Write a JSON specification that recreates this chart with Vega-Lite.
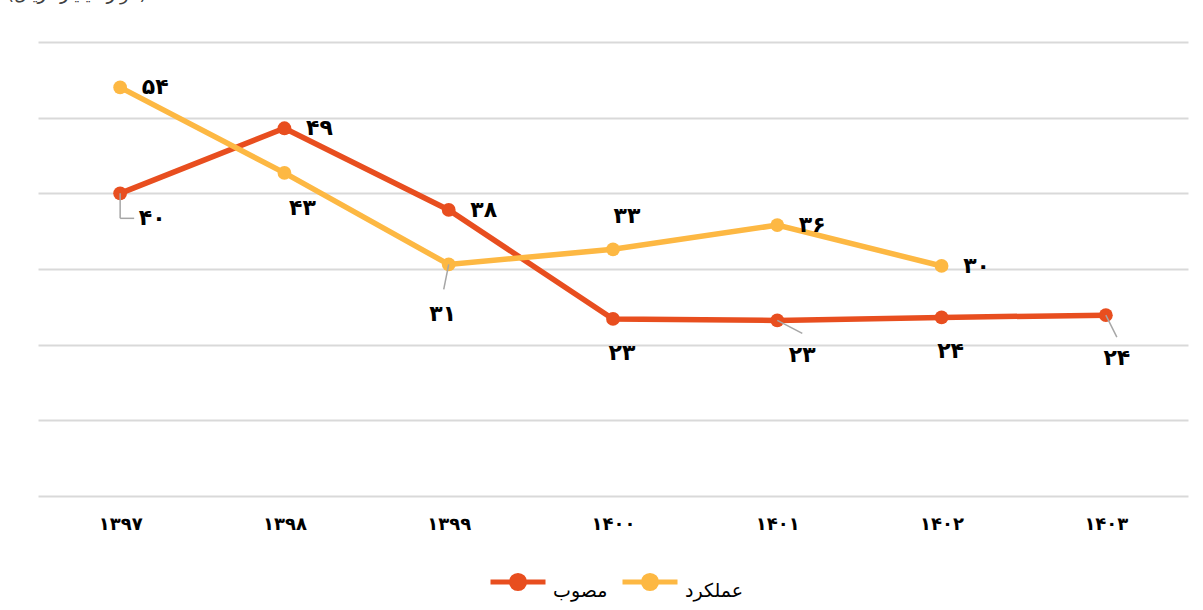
{
  "$schema": "https://vega.github.io/schema/vega-lite/v6.json",
  "width": 1150,
  "height": 454,
  "autosize": {"type": "none"},
  "padding": {"left": 38, "top": 42, "right": 15, "bottom": 114},
  "background": "white",
  "title": {
    "text": "(هزار میلیارد ریال)",
    "anchor": "start",
    "frame": "group",
    "orient": "top",
    "baseline": "alphabetic",
    "offset": 24,
    "dx": -31,
    "fontSize": 18,
    "fontWeight": "normal",
    "font": "DejaVu Sans",
    "color": "#404040"
  },
  "config": {
    "view": {"stroke": null},
    "font": "DejaVu Sans"
  },
  "data": {
    "values": [
      {"year": "۱۳۹۷", "series": "مصوب", "value": 40.0, "label": "۴۰"},
      {"year": "۱۳۹۸", "series": "مصوب", "value": 48.6, "label": "۴۹"},
      {"year": "۱۳۹۹", "series": "مصوب", "value": 37.8, "label": "۳۸"},
      {"year": "۱۴۰۰", "series": "مصوب", "value": 23.4, "label": "۲۳"},
      {"year": "۱۴۰۱", "series": "مصوب", "value": 23.2, "label": "۲۳"},
      {"year": "۱۴۰۲", "series": "مصوب", "value": 23.6, "label": "۲۴"},
      {"year": "۱۴۰۳", "series": "مصوب", "value": 23.9, "label": "۲۴"},
      {"year": "۱۳۹۷", "series": "عملکرد", "value": 54.0, "label": "۵۴"},
      {"year": "۱۳۹۸", "series": "عملکرد", "value": 42.7, "label": "۴۳"},
      {"year": "۱۳۹۹", "series": "عملکرد", "value": 30.6, "label": "۳۱"},
      {"year": "۱۴۰۰", "series": "عملکرد", "value": 32.6, "label": "۳۳"},
      {"year": "۱۴۰۱", "series": "عملکرد", "value": 35.8, "label": "۳۶"},
      {"year": "۱۴۰۲", "series": "عملکرد", "value": 30.4, "label": "۳۰"}
    ]
  },
  "encoding": {
    "x": {
      "field": "year",
      "type": "ordinal",
      "sort": null,
      "scale": {"type": "point", "padding": 0.5},
      "axis": {
        "title": null,
        "domain": false,
        "ticks": false,
        "grid": false,
        "labelAngle": 0,
        "labelFontSize": 18,
        "labelFontWeight": "bold",
        "labelColor": "#000000",
        "labelPadding": 19,
        "labelFont": "DejaVu Sans"
      }
    },
    "y": {
      "field": "value",
      "type": "quantitative",
      "scale": {"domain": [0, 60], "nice": false, "zero": true},
      "axis": {
        "title": null,
        "labels": false,
        "ticks": false,
        "domain": false,
        "values": [0, 10, 20, 30, 40, 50, 60],
        "gridColor": "#d9d9d9",
        "gridWidth": 2
      }
    }
  },
  "layer": [
    {
      "mark": {"type": "line", "strokeWidth": 5.5},
      "encoding": {
        "color": {
          "field": "series",
          "type": "nominal",
          "sort": ["مصوب", "عملکرد"],
          "scale": {"domain": ["مصوب", "عملکرد"], "range": ["#E84E1F", "#FDB843"]},
          "legend": {
            "title": null,
            "orient": "none",
            "direction": "horizontal",
            "legendX": 450,
            "legendY": 510,
            "symbolType": "M-1,0H1M0.24,0A0.24,0.24,0,1,1,-0.24,0A0.24,0.24,0,1,1,0.24,0Z",
            "symbolSize": 3025,
            "symbolStrokeWidth": 5,
            "labelFontSize": 19,
            "labelColor": "#000000",
            "labelFont": "DejaVu Sans",
            "labelBaseline": "top",
            "labelOffset": 5,
            "columnPadding": 4,
            "encode": {
              "symbols": {
                "update": {
                  "fill": {"scale": "color", "field": "value"},
                  "stroke": {"scale": "color", "field": "value"},
                  "opacity": {"value": 1}
                }
              }
            }
          }
        }
      }
    },
    {
      "mark": {"type": "point", "filled": true, "size": 190, "opacity": 1},
      "encoding": {
        "color": {"field": "series", "type": "nominal", "legend": null}
      }
    },
    {
      "transform": [{"filter": "datum.series == 'مصوب' && datum.year == '۱۳۹۷'"}],
      "mark": {"type": "rule", "color": "#a6a6a6", "strokeWidth": 1.5, "y2Offset": 25},
      "encoding": {"x2": {"field": "year"}, "y2": {"field": "value"}}
    },
    {
      "transform": [{"filter": "datum.series == 'مصوب' && datum.year == '۱۳۹۷'"}],
      "mark": {"type": "rule", "color": "#a6a6a6", "strokeWidth": 1.5, "yOffset": 25, "y2Offset": 25, "x2Offset": 14},
      "encoding": {"x2": {"field": "year"}, "y2": {"field": "value"}}
    },
    {
      "transform": [{"filter": "datum.series == 'عملکرد' && datum.year == '۱۳۹۹'"}],
      "mark": {"type": "rule", "color": "#a6a6a6", "strokeWidth": 1.5, "x2Offset": -5, "y2Offset": 25},
      "encoding": {"x2": {"field": "year"}, "y2": {"field": "value"}}
    },
    {
      "transform": [{"filter": "datum.series == 'مصوب' && datum.year == '۱۴۰۱'"}],
      "mark": {"type": "rule", "color": "#a6a6a6", "strokeWidth": 1.5, "x2Offset": 25, "y2Offset": 13},
      "encoding": {"x2": {"field": "year"}, "y2": {"field": "value"}}
    },
    {
      "transform": [{"filter": "datum.series == 'مصوب' && datum.year == '۱۴۰۳'"}],
      "mark": {"type": "rule", "color": "#a6a6a6", "strokeWidth": 1.5, "x2Offset": 11, "y2Offset": 22},
      "encoding": {"x2": {"field": "year"}, "y2": {"field": "value"}}
    },
    {
      "transform": [{"filter": "(datum.series == 'مصوب' && (datum.year == '۱۳۹۸' || datum.year == '۱۳۹۹')) || (datum.series == 'عملکرد' && (datum.year == '۱۳۹۷' || datum.year == '۱۴۰۱' || datum.year == '۱۴۰۲'))"}],
      "mark": {"type": "text", "dx": 35, "dy": 0, "fontSize": 22, "fontWeight": "bold", "color": "#000000", "align": "center", "baseline": "middle"},
      "encoding": {"text": {"field": "label"}}
    },
    {
      "transform": [{"filter": "datum.series == 'مصوب' && datum.year == '۱۳۹۷'"}],
      "mark": {"type": "text", "dx": 32, "dy": 25, "fontSize": 22, "fontWeight": "bold", "color": "#000000", "align": "center", "baseline": "middle"},
      "encoding": {"text": {"field": "label"}}
    },
    {
      "transform": [{"filter": "datum.series == 'عملکرد' && datum.year == '۱۳۹۸'"}],
      "mark": {"type": "text", "dx": 18, "dy": 35, "fontSize": 22, "fontWeight": "bold", "color": "#000000", "align": "center", "baseline": "middle"},
      "encoding": {"text": {"field": "label"}}
    },
    {
      "transform": [{"filter": "datum.series == 'عملکرد' && datum.year == '۱۳۹۹'"}],
      "mark": {"type": "text", "dx": -6, "dy": 50, "fontSize": 22, "fontWeight": "bold", "color": "#000000", "align": "center", "baseline": "middle"},
      "encoding": {"text": {"field": "label"}}
    },
    {
      "transform": [{"filter": "datum.series == 'عملکرد' && datum.year == '۱۴۰۰'"}],
      "mark": {"type": "text", "dx": 14, "dy": -33, "fontSize": 22, "fontWeight": "bold", "color": "#000000", "align": "center", "baseline": "middle"},
      "encoding": {"text": {"field": "label"}}
    },
    {
      "transform": [{"filter": "datum.series == 'مصوب' && (datum.year == '۱۴۰۰' || datum.year == '۱۴۰۲')"}],
      "mark": {"type": "text", "dx": 9, "dy": 34, "fontSize": 22, "fontWeight": "bold", "color": "#000000", "align": "center", "baseline": "middle"},
      "encoding": {"text": {"field": "label"}}
    },
    {
      "transform": [{"filter": "datum.series == 'مصوب' && datum.year == '۱۴۰۱'"}],
      "mark": {"type": "text", "dx": 25, "dy": 35, "fontSize": 22, "fontWeight": "bold", "color": "#000000", "align": "center", "baseline": "middle"},
      "encoding": {"text": {"field": "label"}}
    },
    {
      "transform": [{"filter": "datum.series == 'مصوب' && datum.year == '۱۴۰۳'"}],
      "mark": {"type": "text", "dx": 11, "dy": 43, "fontSize": 22, "fontWeight": "bold", "color": "#000000", "align": "center", "baseline": "middle"},
      "encoding": {"text": {"field": "label"}}
    }
  ]
}
